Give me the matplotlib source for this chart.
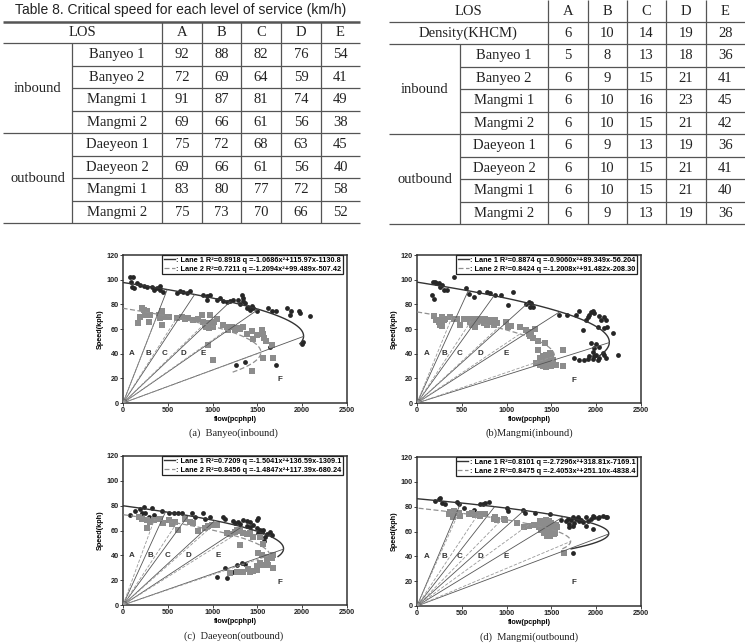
import numpy as np
import matplotlib.pyplot as plt
from matplotlib.lines import Line2D

plt.rcParams['font.family'] = ['Liberation Sans', 'DejaVu Sans']

# ---- tables ----
los = ['A', 'B', 'C', 'D', 'E']
directions = ['inbound', 'outbound']
sections = ['Banyeo 1', 'Banyeo 2', 'Mangmi 1', 'Mangmi 2',
            'Daeyeon 1', 'Daeyeon 2', 'Mangmi 1', 'Mangmi 2']
critical_speed = [[92, 88, 82, 76, 54],
                  [72, 69, 64, 59, 41],
                  [91, 87, 81, 74, 49],
                  [69, 66, 61, 56, 38],
                  [75, 72, 68, 63, 45],
                  [69, 66, 61, 56, 40],
                  [83, 80, 77, 72, 58],
                  [75, 73, 70, 66, 52]]
khcm_density = [6, 10, 14, 19, 28]
critical_density = [[5, 8, 13, 18, 36],
                    [6, 9, 15, 21, 41],
                    [6, 10, 16, 23, 45],
                    [6, 10, 15, 21, 42],
                    [6, 9, 13, 19, 36],
                    [6, 10, 15, 21, 41],
                    [6, 10, 15, 21, 40],
                    [6, 9, 13, 19, 36]]

# ---- fitted curves q = a v^2 + b v + c ----
coef = [[-1.0686, 115.97, -1130.8], [-1.2094, 99.489, -507.42],   # Banyeo in
        [-0.9060, 89.349, -56.204], [-1.2008, 91.482, -208.30],   # Mangmi in
        [-1.5041, 136.59, -1309.1], [-1.4847, 117.39, -680.24],   # Daeyeon out
        [-2.7296, 318.81, -7169.1], [-2.4053, 251.10, -4838.4]]   # Mangmi out
legend_text = [
    ': Lane 1 R\u00b2=0.8918 q =-1.0686x\u00b2+115.97x-1130.8',
    ': Lane 2 R\u00b2=0.7211 q =-1.2094x\u00b2+99.489x-507.42',
    ': Lane 1 R\u00b2=0.8874 q =-0.9060x\u00b2+89.349x-56.204',
    ': Lane 2 R\u00b2=0.8424 q =-1.2008x\u00b2+91.482x-208.30',
    ': Lane 1 R\u00b2=0.7209 q =-1.5041x\u00b2+136.59x-1309.1',
    ': Lane 2 R\u00b2=0.8456 q =-1.4847x\u00b2+117.39x-680.24',
    ': Lane 1 R\u00b2=0.8101 q =-2.7296x\u00b2+318.81x-7169.1',
    ': Lane 2 R\u00b2=0.8475 q =-2.4053x\u00b2+251.10x-4838.4']
# lowest speed reached by each drawn curve
curve_low_speed = [48, 25, 38, 33, 39, 40, 46, 46]

captions = ['(a)  Banyeo(inbound)', '(b)Mangmi(inbound)',
            '(c)  Daeyeon(outbound)', '(d)  Mangmi(outbound)']

# ---- observed points ----
a1_flow = [74, 111, 89, 100, 119, 156, 193, 230, 267, 323,
           341, 378, 408, 415, 452, 600, 637, 674, 711, 748,
           897, 935, 972, 935, 1046, 1083, 1120, 1157, 1194, 1231,
           1287, 1324, 1305, 1343, 1343, 1361, 1380, 1398, 1417, 1435,
           1454, 1491, 1621, 1658, 1713, 1825, 1880, 1862, 1966, 1973,
           2084, 2007, 2000, 1261, 1361, 1706, 1640]
a1_speed = [102, 102.5, 98.4, 94.4, 93, 97, 96, 95, 94.4, 94,
            91.7, 93, 95, 91.7, 90.3, 89.5, 90.8, 90, 89.2, 90.5,
            87.6, 86.8, 87.6, 83.6, 83.6, 85, 82.3, 81.7, 82.5, 83.6,
            83.6, 87.6, 80.4, 85, 82.3, 81, 76.9, 78, 75.5, 79,
            76.9, 75, 76.9, 74.2, 75, 76.9, 74.2, 71.5, 74.2, 72.8,
            70.7, 49.6, 48, 31, 32.9, 31, 45.3]
a2_flow = [163, 185, 211, 230, 267, 248, 304, 285, 397, 415,
           434, 452, 434, 508, 600, 656, 693, 730, 786, 840,
           879, 897, 916, 935, 953, 972, 990, 1009, 953, 1016,
           1046, 972, 953, 1009, 1120, 1157, 1176, 1213, 1250, 1268,
           1305, 1343, 1380, 1435, 1454, 1547, 1491, 1565, 1572, 1595,
           1658, 1558, 1676, 1435, 925, 980, 1000, 960]
a2_speed = [64.7, 69.6, 76.9, 75.5, 74.2, 71.5, 71.5, 66, 71.5, 68.8,
            74.2, 70, 63.4, 69.6, 68.8, 69.6, 68, 69, 67.4, 68,
            71.5, 66, 63.4, 64.5, 63.4, 65, 62.5, 61.5, 61.5, 66,
            68, 71.5, 47.2, 34.5, 63.4, 61.5, 59.3, 61.5, 58.8, 60.5,
            59.9, 61.5, 56, 58, 51.8, 58.8, 55.3, 56, 52.6, 49.9,
            47.2, 36.4, 36.4, 25.6, 62, 63, 64.5, 60.5]

b1_flow = [179, 197, 215, 167, 186, 242, 260, 279, 298, 335,
           409, 551, 577, 632, 688, 785, 814, 869, 943, 1017,
           1073, 1220, 1250, 1276, 1294, 1257, 1672, 1775, 1812, 1886,
           1904, 1923, 1941, 1960, 1979, 2034, 2052, 2089, 2107, 2015,
           2089, 2126, 1849, 2182, 1941, 1997, 2034, 1979, 1960, 1997,
           1979, 2034, 2089, 2107, 2071, 1756, 1812, 1867, 1904, 1923,
           1960, 2015, 2245, 1581]
b1_speed = [98.4, 98.4, 97.5, 87.6, 84, 97, 94.4, 95.7, 91.7, 91.7,
            102.5, 93.6, 88.5, 86.3, 90.3, 90.3, 89, 87.6, 87.6, 79.6,
            89.8, 80.4, 81.5, 81, 78.2, 78.2, 71.5, 71.5, 74.7, 67.4,
            69.6, 71.5, 73.4, 75, 72.8, 70.7, 67.4, 69.6, 67.4, 62,
            60.7, 61.5, 58.8, 56.6, 48.5, 48, 45.8, 44.5, 41, 39.1,
            37.8, 36.4, 39.1, 36.4, 40.4, 36.4, 35, 34.5, 35.6, 37.8,
            35.5, 35, 39.1, 71.5]
b2_flow = [193, 216, 242, 260, 279, 298, 316, 279, 372, 409,
           446, 484, 521, 577, 595, 614, 632, 670, 688, 725,
           744, 651, 760, 814, 869, 998, 1017, 1054, 1147, 1220,
           1250, 1276, 1313, 1257, 1294, 1350, 1424, 1350, 1627, 1405,
           1442, 1480, 1498, 1368, 1331, 1387, 1424, 1461, 1517, 1554,
           1405, 1442, 1498, 1627, 1368, 1480, 800, 856, 893, 781]
b2_speed = [70.7, 67.4, 66, 63.4, 69.6, 67.4, 68, 62.6, 69.6, 68,
            68, 63.4, 68, 68, 66, 63.4, 68, 66, 68, 67.4,
            64.7, 62, 68, 66, 67.4, 66, 61.5, 62.6, 61.5, 59.3,
            56, 57.7, 59.6, 54, 52.6, 49.9, 48.5, 43.1, 43.1, 37.8,
            39.1, 40.4, 37.8, 36.4, 32.4, 33.7, 34.5, 32.4, 34.5, 31,
            29.7, 29.1, 29.7, 29.7, 31, 35, 67.4, 63.4, 64.7, 63.4]

c1_flow = [82, 137, 193, 230, 211, 248, 323, 341, 285, 434,
           508, 564, 619, 656, 768, 805, 897, 916, 972, 1120,
           1139, 1231, 1250, 1287, 1305, 1343, 1380, 1417, 1491, 1510,
           1380, 1417, 1454, 1491, 1528, 1547, 1565, 1602, 1639, 1658,
           1584, 1510, 1572, 1046, 1139, 1157, 1268, 1324, 1231, 1361]
c1_speed = [72.3, 75.8, 77.7, 79, 73.7, 74.2, 78.5, 72.3, 70.5, 75.8,
            74.2, 73.7, 73.7, 74.2, 73.7, 70.5, 74.2, 68.9, 70.5, 70.5,
            68.9, 67.8, 66.2, 67, 65.1, 68.3, 67.8, 67, 68.3, 69.7,
            64, 63, 64.3, 62.4, 60.8, 59, 60.8, 57, 59, 56.3,
            54.9, 57.6, 51.7, 22.8, 29.5, 21.4, 32.1, 33.5, 26.8, 33]
c2_flow = [174, 211, 267, 297, 267, 341, 415, 452, 508, 545,
           582, 619, 693, 749, 786, 842, 916, 953, 990, 1046,
           1157, 1194, 1250, 1268, 1305, 1343, 1380, 1417, 1305, 1454,
           1528, 1565, 1510, 1547, 1602, 1658, 1602, 1676, 1528, 1565,
           1491, 1621, 1676, 1491, 1417, 1343, 1268, 1194, 1398, 1454]
c2_speed = [71, 68.9, 68.3, 67, 62.4, 68.3, 68.9, 66.2, 68.3, 65.6,
            67, 60.3, 68.9, 67, 66.2, 59.7, 62.4, 63.5, 64.3, 64.3,
            57.6, 57, 59, 60.8, 59.7, 58.1, 57, 57.6, 48.2, 54.9,
            54.9, 49, 41.5, 40.2, 38.8, 37.5, 36.2, 40.2, 33.5, 32.1,
            31.3, 32.1, 29.5, 28.1, 26.8, 26.8, 26.8, 25.5, 28.7, 27.6]

d1_flow = [205, 242, 260, 279, 316, 446, 465, 521, 632, 707,
           763, 800, 740, 999, 1012, 1184, 1202, 1313, 1480, 1609,
           1683, 1720, 1738, 1775, 1794, 1812, 1831, 1849, 1886, 1904,
           1941, 1960, 1979, 2015, 2034, 2071, 2107, 2126, 1738, 1701,
           1886, 1960, 1745, 1659, 1696, 1757, 1812]
d1_speed = [84.4, 86.3, 87.1, 83, 82.5, 83.6, 82.5, 79, 77.7, 82.5,
            83, 83.6, 82, 78.8, 76.4, 77, 75.3, 75.3, 74.3, 69.5,
            70, 69, 71.6, 70, 71.6, 68.1, 69.5, 67.3, 71.6, 68.1,
            70, 72.1, 71.6, 70.8, 71.6, 72.1, 71.6, 71.6, 64.7, 63.6,
            64.7, 62, 42.8, 68.1, 66.3, 66.8, 70]
d2_flow = [372, 391, 409, 353, 428, 402, 465, 484, 577, 614,
           651, 688, 707, 763, 856, 874, 893, 967, 986, 1116,
           1190, 1246, 1302, 1358, 1384, 1414, 1432, 1470, 1488, 1414,
           1451, 1507, 1525, 1563, 1544, 1395, 1637, 1470, 1369, 1406,
           1443, 1461, 1480, 1498, 1517, 1424, 1387, 1554, 1535, 1443,
           1480]
d2_speed = [75.5, 73.7, 76.4, 73.7, 74.5, 71.8, 74.5, 72.3, 73.7, 74.5,
            72.9, 73.7, 72.3, 73.7, 70.2, 71.8, 69.1, 70.2, 69.1, 67,
            63.8, 64.8, 65.6, 63.8, 61.1, 64.8, 61.6, 63.8, 58.9, 58.9,
            56.3, 63, 57.6, 63.8, 60.3, 63, 42.8, 68.3, 68.1, 66.8,
            68.9, 65.5, 63.6, 66.8, 61.5, 62, 63.6, 65.5, 58.8, 58.8,
            56.1]

# LOS letter positions (flow) per panel, letters sit at 40 kph, F lower right
los_label_flow = [[100, 286, 460, 675, 898], [108, 301, 480, 703, 993],
                  [100, 304, 497, 731, 1065], [108, 301, 480, 711, 993]]
f_label = [(1750, 19), (1752, 18.6), (1750, 18), (1752, 19)]

points = [(a1_flow, a1_speed, a2_flow, a2_speed),
          (b1_flow, b1_speed, b2_flow, b2_speed),
          (c1_flow, c1_speed, c2_flow, c2_speed),
          (d1_flow, d1_speed, d2_flow, d2_speed)]

W, H = 745, 644
fig = plt.figure(figsize=(W / 100, H / 100), dpi=100)

# ---- tables drawn in pixel coordinates ----
bg = fig.add_axes([0, 0, 1, 1])
bg.set_xlim(0, W)
bg.set_ylim(H, 0)
bg.axis('off')
LC = '#555555'
TXT = '#222222'
serif = ['Liberation Serif', 'DejaVu Serif']


def hline(y, x0, x1, lw=0.9):
    bg.plot([x0, x1], [y, y], color=LC, lw=lw, solid_capstyle='butt')


def vline(x, y0, y1, lw=0.9):
    bg.plot([x, x], [y0, y1], color=LC, lw=lw, solid_capstyle='butt')


def cell(x, y, s):
    bg.text(x, y, s, ha='center', va='center', fontsize=10.5,
            family=serif, color=TXT)


# left table
bg.text(181, 10, 'Table 8. Critical speed for each level of service (km/h)',
        ha='center', va='center', fontsize=10, color=TXT)
lc = [3, 72, 162, 202, 241, 281, 321, 360]
lr = [22, 43, 66, 88, 111, 133, 156, 178, 201, 223]
hline(lr[0], lc[0], lc[-1], lw=1.8)
for i, y in enumerate(lr[1:], start=1):
    full = i in (1, 5, 9)
    hline(y, lc[0] if full else lc[1], lc[-1])
vline(lc[1], lr[1], lr[-1])
for x in lc[2:-1]:
    vline(x, lr[0], lr[-1])
cell((lc[0] + lc[2]) / 2, (lr[0] + lr[1]) / 2, 'LOS')
for j, s in enumerate(los):
    cell((lc[j + 2] + lc[j + 3]) / 2, (lr[0] + lr[1]) / 2, s)
for g, d in enumerate(directions):
    cell((lc[0] + lc[1]) / 2, (lr[1 + 4 * g] + lr[5 + 4 * g]) / 2, d)
for i, name in enumerate(sections):
    yc = (lr[i + 1] + lr[i + 2]) / 2
    cell((lc[1] + lc[2]) / 2, yc, name)
    for j, v in enumerate(critical_speed[i]):
        cell((lc[j + 2] + lc[j + 3]) / 2, yc, str(v))

# right table
rc = [389, 460, 548, 588, 627, 666, 706, 745]
rr = [0, 22, 44, 67, 89, 112, 134, 157, 179, 202, 224]
for i, y in enumerate(rr[1:], start=1):
    full = i in (1, 2, 6, 10)
    hline(y, rc[0] if full else rc[1], rc[-1])
vline(rc[1], rr[2], rr[-1])
for x in rc[2:-1]:
    vline(x, rr[0], rr[-1])
cell((rc[0] + rc[2]) / 2, (rr[0] + rr[1]) / 2, 'LOS')
cell((rc[0] + rc[2]) / 2, (rr[1] + rr[2]) / 2, 'Density(KHCM)')
for j, s in enumerate(los):
    cell((rc[j + 2] + rc[j + 3]) / 2, (rr[0] + rr[1]) / 2, s)
    cell((rc[j + 2] + rc[j + 3]) / 2, (rr[1] + rr[2]) / 2, str(khcm_density[j]))
for g, d in enumerate(directions):
    cell((rc[0] + rc[1]) / 2, (rr[2 + 4 * g] + rr[6 + 4 * g]) / 2, d)
for i, name in enumerate(sections):
    yc = (rr[i + 2] + rr[i + 3]) / 2
    cell((rc[1] + rc[2]) / 2, yc, name)
    for j, v in enumerate(critical_density[i]):
        cell((rc[j + 2] + rc[j + 3]) / 2, yc, str(v))

# ---- speed-flow panels ----
boxes = [(123, 255, 224, 148), (417, 255, 224, 148),
         (123, 456, 224, 149), (417, 457, 224, 149)]
cap_pos = [(233, 433), (529, 433), (234, 636), (529, 637)]
DARK = '#262626'
GRAY = '#8c8c8c'

for p in range(4):
    x, y, w, h = boxes[p]
    ax = fig.add_axes([x / W, 1 - (y + h) / H, w / W, h / H])
    f1, s1, f2, s2 = points[p]
    ax.scatter(f1, s1, s=12, marker='o', color=DARK, linewidths=0, zorder=2)
    ax.scatter(f2, s2, s=14, marker='s', color=GRAY, linewidths=0, zorder=2)

    styles = [dict(color='#333333', lw=1.0, ls='-'),
              dict(color='#909090', lw=0.9, ls=(0, (4, 2)))]
    ray_styles = [dict(color='#555555', lw=0.6, ls='-'),
                  dict(color='#999999', lw=0.6, ls=(0, (4, 2)))]
    for lane in range(2):
        k = 2 * p + lane
        a, b, c = coef[k]
        v_top = max(np.roots([a, b, c]).real)
        v = np.linspace(curve_low_speed[k], v_top, 300)
        ax.plot(np.polyval(coef[k], v), v, zorder=3, **styles[lane])
        for vc in critical_speed[k]:
            ax.plot([0, np.polyval(coef[k], vc)], [0, vc], zorder=3,
                    **ray_styles[lane])

    for j, s in enumerate(los):
        ax.text(los_label_flow[p][j], 40, s, fontsize=5.8, weight='bold',
                color='#333333', ha='center', va='center')
    ax.text(f_label[p][0], f_label[p][1], 'F', fontsize=5.8, weight='bold',
            color='#333333', ha='center', va='center')

    ax.set_xlim(0, 2500)
    ax.set_ylim(0, 120)
    ax.set_xticks(range(0, 2501, 500))
    ax.set_yticks(range(0, 121, 20))
    ax.tick_params(direction='out', length=2, width=0.6, labelsize=5.2,
                   pad=1, colors='#222222')
    for lab in ax.get_xticklabels() + ax.get_yticklabels():
        lab.set_fontweight('bold')
    for sp in ax.spines.values():
        sp.set_linewidth(1.1)
        sp.set_color('#333333')
    ax.set_xlabel('flow(pcphpl)', fontsize=5.2, weight='bold', labelpad=1)
    ax.set_ylabel('Speed(kph)', fontsize=5.2, weight='bold', labelpad=2)

    handles = [Line2D([], [], **styles[0]), Line2D([], [], **styles[1])]
    leg = ax.legend(handles, legend_text[2 * p:2 * p + 2], loc='upper right',
                    bbox_to_anchor=(0.982, 0.997), borderaxespad=0,
                    prop={'weight': 'bold', 'size': 5.3}, fancybox=False,
                    edgecolor='#222222', framealpha=1, borderpad=0.2,
                    handlelength=1.5, handletextpad=0.2, labelspacing=0.2)
    leg.get_frame().set_linewidth(0.9)

    fig.text(cap_pos[p][0] / W, 1 - cap_pos[p][1] / H, captions[p],
             ha='center', va='center', fontsize=7.5, family=serif,
             color=TXT)

fig.savefig('out.png', dpi=100)
